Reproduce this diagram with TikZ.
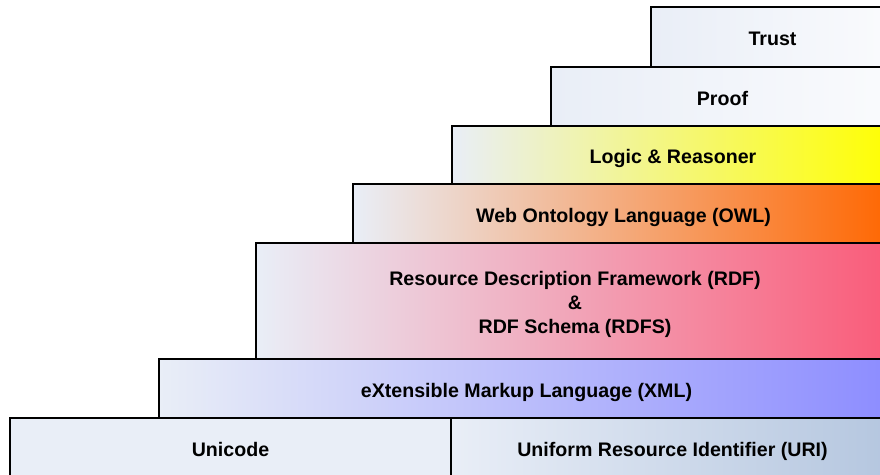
\documentclass[tikz,border=0pt]{standalone}
\usepackage{fontspec}
\setmainfont{Liberation Sans}
\definecolor{base}{HTML}{E9EEF7}
\definecolor{paleend}{HTML}{FAFBFD}
\definecolor{logicend}{HTML}{FFFF00}
\definecolor{owlend}{HTML}{FF6600}
\definecolor{rdfend}{HTML}{FA5A78}
\definecolor{xmlend}{HTML}{8C8CFF}
\definecolor{uriend}{HTML}{B4C6DF}
\tikzset{
  layer/.style={draw=black, line width=1.6pt, rectangle, anchor=north west,
    inner sep=0pt, outer sep=0pt, align=center, text height=17pt, text depth=0pt,
    font=\fontsize{19.6}{24}\selectfont\bfseries, text=black},
  grad/.style={left color=base, right color=#1, shading angle=90},
}
\begin{document}
\begin{tikzpicture}[x=1pt, y=-1pt]
\useasboundingbox (0,0) rectangle (880,474);
\clip (0,0) rectangle (880,474);
% right edges run past the page so only three sides show
\node[layer, grad=paleend, minimum width=243pt, minimum height=60pt] (trust) at (651,7) {Trust};
\node[layer, grad=paleend, minimum width=343pt, minimum height=59pt] (proof) at (551,67) {Proof};
\node[layer, grad=logicend, minimum width=442pt, minimum height=58pt] (logic) at (452,126) {Logic \& Reasoner};
\node[layer, grad=owlend, minimum width=541pt, minimum height=59pt] (owl) at (353,184) {Web Ontology Language (OWL)};
\node[layer, grad=rdfend, minimum width=638pt, minimum height=116pt, text height=65pt] (rdf) at (256,243)
  {Resource Description Framework (RDF)\\ \&\\ RDF Schema (RDFS)};
\node[layer, grad=xmlend, minimum width=735pt, minimum height=59pt] (xml) at (159,359) {eXtensible Markup Language (XML)};
\node[layer, fill=base, minimum width=441pt, minimum height=60pt] (unicode) at (10,418) {Unicode};
\node[layer, grad=uriend, minimum width=443pt, minimum height=60pt] (uri) at (451,418) {Uniform Resource Identifier (URI)};
\end{tikzpicture}
\end{document}
